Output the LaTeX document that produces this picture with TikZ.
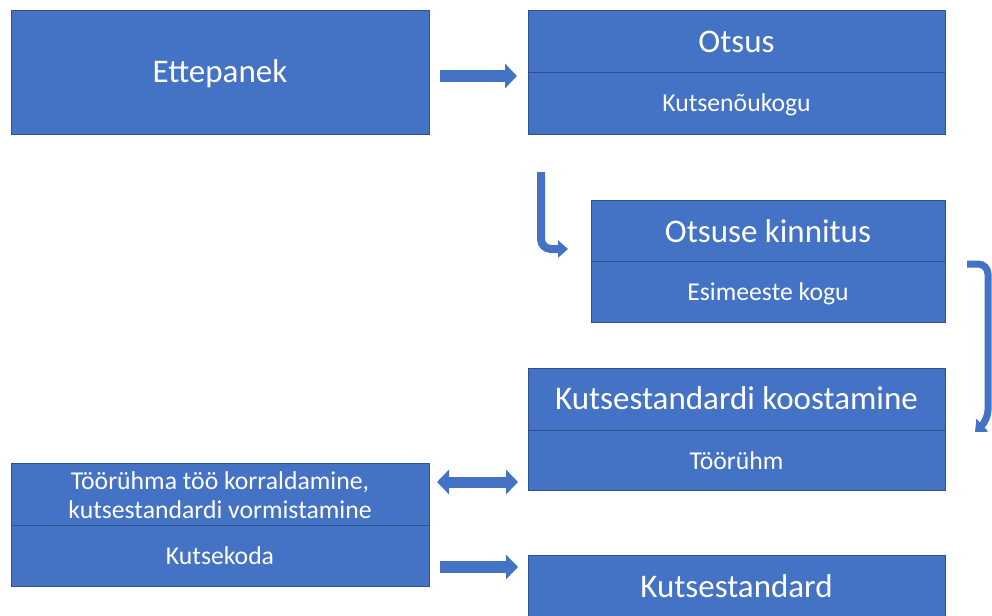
\documentclass[tikz,border=0pt]{standalone}
\usepackage{fontspec}
\setmainfont{Carlito}
\usetikzlibrary{arrows.meta}
\definecolor{boxblue}{HTML}{4472C4}
\definecolor{edgeblue}{HTML}{2F528F}
\begin{document}
\begin{tikzpicture}[x=1pt,y=-1pt,
  box/.style={draw=edgeblue, fill=boxblue, line width=0.8pt, rectangle, anchor=north west, inner sep=0pt, outer sep=0pt},
  title/.style={text=white, anchor=base, inner sep=0pt, font=\fontsize{33}{39}\selectfont},
  sub/.style={text=white, anchor=base, inner sep=0pt, font=\fontsize{25.7}{30}\selectfont},
  divider/.style={draw=edgeblue, line width=0.8pt},
  flow/.style={draw=boxblue, line width=12pt, -{Triangle[length=12pt,width=24pt]}},
  flowtwo/.style={draw=boxblue, line width=11pt, {Triangle[length=12pt,width=24pt]}-{Triangle[length=12pt,width=24pt]}},
  bent/.style={draw=boxblue, line width=8pt, rounded corners=10pt, -{Triangle[length=10pt,width=17pt]}},
]
\useasboundingbox (0,0) rectangle (992,615);

% boxes
\node[box, minimum width=418pt, minimum height=124pt] (ette) at (11,10) {};
\node[box, minimum width=417pt, minimum height=124pt] (otsus) at (528,10) {};
\node[box, minimum width=354pt, minimum height=122pt] (kinnitus) at (591,200) {};
\node[box, minimum width=417pt, minimum height=122pt] (koost) at (528,368) {};
\node[box, minimum width=418pt, minimum height=123pt] (korr) at (11,463) {};
\node[box, minimum width=417pt, minimum height=80pt] (ks) at (528,555) {};

% dividers
\draw[divider] (otsus.west |- 0,72) -- (otsus.east |- 0,72);
\draw[divider] (kinnitus.west |- 0,261) -- (kinnitus.east |- 0,261);
\draw[divider] (koost.west |- 0,430) -- (koost.east |- 0,430);
\draw[divider] (korr.west |- 0,525) -- (korr.east |- 0,525);

% texts
\node[title] (t-ette) at (220,83) {Ettepanek};
\node[title] (t-otsus) at (736.5,53) {Otsus};
\node[sub] (s-otsus) at (736.5,111) {Kutsenõukogu};
\node[title] (t-kinn) at (768,242) {Otsuse kinnitus};
\node[sub] (s-kinn) at (768,300) {Esimeeste kogu};
\node[title] (t-koost) at (736.5,409) {Kutsestandardi koostamine};
\node[sub] (s-koost) at (736.5,469) {Töörühm};
\node[sub] (t-korr1) at (220,489) {Töörühma töö korraldamine,};
\node[sub] (t-korr2) at (220,518) {kutsestandardi vormistamine};
\node[sub] (s-korr) at (220,564) {Kutsekoda};
\node[title] (t-ks) at (736.5,597) {Kutsestandard};

% connector end points
\coordinate (a1s) at (440,76);
\coordinate (a1e) at (517,76);
\coordinate (a2s) at (541,172);
\coordinate (a2m) at (541,249);
\coordinate (a2e) at (568,249);
\coordinate (a3s) at (967,264);
\coordinate (a3m1) at (988,264);
\coordinate (a3m2) at (988,420);
\coordinate (a3e) at (975,432);
\coordinate (a4s) at (437,482);
\coordinate (a4e) at (518,482);
\coordinate (a5s) at (440,567);
\coordinate (a5e) at (518,567);

\draw[flow] (a1s) -- (a1e);
\draw[bent] (a2s) -- (a2m) -- (a2e);
\draw[bent, line width=7pt] (a3s) -- (a3m1) -- (a3m2) -- (a3e);
\draw[flowtwo] (a4s) -- (a4e);
\draw[flow] (a5s) -- (a5e);
\end{tikzpicture}
\end{document}
